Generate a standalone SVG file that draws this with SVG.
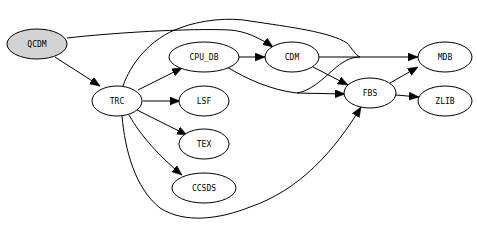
<svg xmlns="http://www.w3.org/2000/svg" width="477" height="230" viewBox="0 0 477 230">
<style>
  .node ellipse { fill: #ffffff; stroke: #000000; stroke-width: 1; }
  #QCDM ellipse { fill: #d3d3d3; }
  .node text { font-family: "DejaVu Sans Mono", "Liberation Mono", monospace; font-size: 8px; fill: #000000; text-anchor: middle; dominant-baseline: central; }
  .edges path { fill: none; stroke: #000000; stroke-width: 1; }
  .edges path.arr { marker-end: url(#ah); }
</style>
<defs>
  <marker id="ah" markerUnits="userSpaceOnUse" markerWidth="12" markerHeight="9" refX="10" refY="4" orient="auto">
    <path d="M0,0 L10,4 L0,8 Z" fill="#000000" stroke="#000000" stroke-width="0.5"/>
  </marker>
</defs>
<rect width="477" height="230" fill="#ffffff"/>
<g class="edges">
  <!-- QCDM -> TRC -->
  <path class="arr" d="M55,57 L100,86"/>
  <!-- QCDM -> CDM -->
  <path class="arr" d="M67,38 C110,33 190,28 230,30 C245,31 260,38 273,47"/>
  <!-- TRC -> MDB (concentrated) -->
  <path d="M123,86 C130,65 150,38 180,28 C200,20 230,17 250,21 C290,27 330,32 347,43 C352,48 355,55 360,57"/>
  <!-- TRC -> CPU_DB -->
  <path class="arr" d="M138,90 L182,68"/>
  <!-- TRC -> LSF -->
  <path class="arr" d="M143,101 L180,101"/>
  <!-- TRC -> TEX -->
  <path class="arr" d="M137,110 L187,135"/>
  <!-- TRC -> CCSDS -->
  <path class="arr" d="M129,115 C140,135 160,157 182,175"/>
  <!-- TRC -> FBS -->
  <path class="arr" d="M122,116 C125,150 135,188 160,208 C185,224 220,219 250,207 C300,190 335,150 361,107"/>
  <!-- CPU_DB -> CDM -->
  <path class="arr" d="M239,57 L265,57"/>
  <!-- CPU_DB -> FBS -->
  <path class="arr" d="M227,67 C245,78 270,90 297,93 L345,94"/>
  <!-- CPU_DB -> MDB (concentrated branch) -->
  <path d="M297,93 C310,91 322,80 333,70 C342,62 350,57 360,57"/>
  <!-- CDM -> MDB -->
  <path class="arr" d="M319,57 L418,57"/>
  <!-- CDM -> FBS -->
  <path class="arr" d="M313,67 L348,85"/>
  <!-- FBS -> MDB -->
  <path class="arr" d="M390,83 L418,67"/>
  <!-- FBS -> ZLIB -->
  <path class="arr" d="M396,95 L419,97"/>
</g>
<g id="QCDM" class="node"><ellipse cx="37" cy="44" rx="30" ry="15"/><text x="37" y="44">QCDM</text></g>
<g id="TRC" class="node"><ellipse cx="117" cy="101" rx="25" ry="15"/><text x="117" y="101">TRC</text></g>
<g id="CPU_DB" class="node"><ellipse cx="204" cy="57" rx="35" ry="15"/><text x="204" y="57">CPU_DB</text></g>
<g id="LSF" class="node"><ellipse cx="204" cy="101" rx="25" ry="15"/><text x="204" y="101">LSF</text></g>
<g id="TEX" class="node"><ellipse cx="204" cy="144" rx="25" ry="15"/><text x="204" y="144">TEX</text></g>
<g id="CCSDS" class="node"><ellipse cx="204" cy="188" rx="32" ry="15"/><text x="204" y="188">CCSDS</text></g>
<g id="CDM" class="node"><ellipse cx="292" cy="57" rx="27" ry="15"/><text x="292" y="57">CDM</text></g>
<g id="FBS" class="node"><ellipse cx="370" cy="93" rx="26" ry="15"/><text x="370" y="93">FBS</text></g>
<g id="MDB" class="node"><ellipse cx="445" cy="57" rx="27" ry="15"/><text x="445" y="57">MDB</text></g>
<g id="ZLIB" class="node"><ellipse cx="445" cy="101" rx="27" ry="15"/><text x="445" y="101">ZLIB</text></g>
</svg>
